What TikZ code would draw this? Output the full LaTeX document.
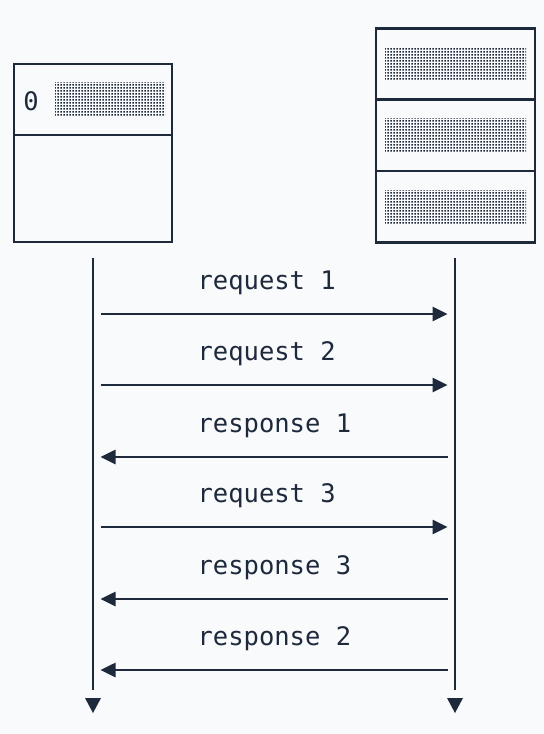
\documentclass[tikz,border=0pt]{standalone}
\usepackage{fontspec}
\setmonofont{DejaVu Sans Mono}
\usetikzlibrary{positioning,arrows.meta,patterns}
\definecolor{ink}{HTML}{1E293B}
\definecolor{paper}{HTML}{F8FAFC}
\pgfdeclarepatternformonly{square dots}{\pgfqpoint{0pt}{0pt}}{\pgfqpoint{3bp}{3bp}}{\pgfqpoint{3bp}{3bp}}{\pgfpathrectangle{\pgfqpoint{0.5bp}{0.5bp}}{\pgfqpoint{2bp}{2bp}}\pgfusepath{fill}}

\begin{document}
\begin{tikzpicture}[x=1bp, y=-1bp, >={Triangle[length=15bp, width=14bp]}, line width=2.6bp, color=ink, node distance=0pt, cell/.style={rectangle, draw, inner sep=0pt, outer sep=0pt, minimum width=158bp, minimum height=71bp}, dots box/.style={rectangle, inner sep=0pt, pattern=square dots, pattern color=ink, minimum height=33bp}, msg label/.style={font=\ttfamily\fontsize{25.5bp}{30bp}\selectfont, anchor=base west}]
	\fill[paper] (0,0) rectangle (544,734);
	% left box
	\node[cell] (L1) at (93,99.5) {};
	\node[cell, minimum height=107bp] (L2) [below=of L1] {};
	\node[msg label, anchor=base] (L0) at (31,111) {0};
	\node[dots box, minimum width=110bp] (LP) at (110,99.5) {};
	% right box
	\node[cell, minimum width=159bp, minimum height=71.3bp] (R1) at (455.5,64) {};
	\node[cell, minimum width=159bp, minimum height=71.3bp] (R2) [below=of R1] {};
	\node[cell, minimum width=159bp, minimum height=71.3bp] (R3) [below=of R2] {};
	\foreach \r in {1,2,3}
		\node[dots box, minimum width=141bp] (RP\r) at (R\r.center) {};
	% lifelines
	\coordinate (LT) at (93,258);
	\coordinate (LB) at (93,690);
	\coordinate (RT) at (455,258);
	\coordinate (RB) at (455,690);
	\draw (LT) -- (LB);
	\draw (RT) -- (RB);
	\fill (93,713) -- ++(-8,-15) -- ++(16,0) -- cycle;
	\fill (455,713) -- ++(-8,-15) -- ++(16,0) -- cycle;
	% messages
	\foreach \y/\txt/\a/\b [count=\i] in {314/request 1/L/R, 385/request 2/L/R, 457/response 1/R/L, 527/request 3/L/R, 599/response 3/R/L, 670/response 2/R/L} {
		\coordinate (L\i) at (93,\y);
		\coordinate (R\i) at (455,\y);
		\draw[->, shorten <=7.5bp, shorten >=7.5bp] (\a\i) -- (\b\i);
		\node[msg label] (M\i) at (193,\y-25) {\txt};
	}
\end{tikzpicture}
\end{document}
